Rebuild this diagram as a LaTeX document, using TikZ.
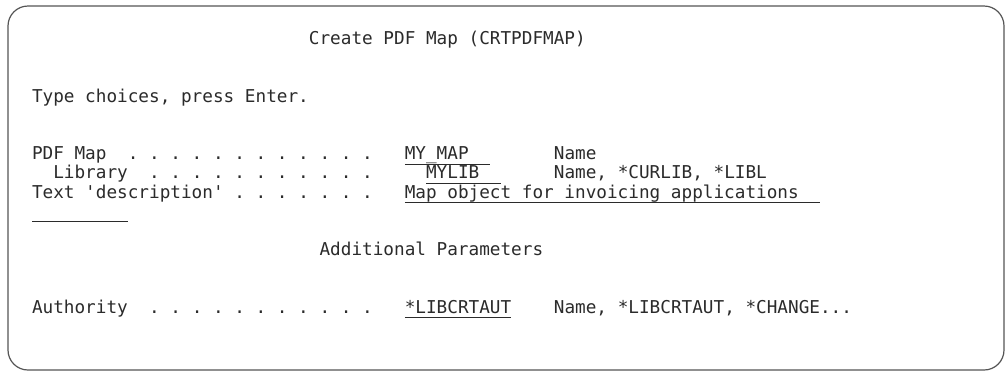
\documentclass[tikz,border=0pt]{standalone}
\usepackage{fontspec}
\setmonofont{DejaVu Sans Mono}
\frenchspacing
\definecolor{ink}{HTML}{2B2B2B}
\definecolor{frame}{HTML}{555555}
\newcommand\cw{10.65}
\newcommand\rowbase[1]{44.5+#1*19.2}
\newcommand\txt[4]{\node[scr] (#1) at ({32+#2*\cw},{\rowbase{#3}}) {#4};}
\newcommand\uline[4]{%
  \coordinate (#1a) at ({32+#2*\cw},{\rowbase{#4}+4.5});
  \coordinate (#1b) at ({32+#3*\cw},{\rowbase{#4}+4.5});
  \draw[fieldline] (#1a) -- (#1b);}
\begin{document}
\begin{tikzpicture}[x=1pt,y=-1pt,
  scr/.style={anchor=base west,inner sep=0pt,outer sep=0pt,text=ink,
    font=\ttfamily\fontsize{17.69}{20}\selectfont},
  fieldline/.style={draw=ink,line width=1.3pt},
  panel/.style={draw=frame,line width=1.2pt,rounded corners=20pt,fill=white}]
\useasboundingbox (0,0) rectangle (1008,373);
\fill[white] (0,0) rectangle (1008,373);
\draw[panel] (8,6) rectangle (1004,370);
% row 0
\txt{title}{26}{0}{Create PDF Map (CRTPDFMAP)}
% row 3
\txt{prompt}{0}{3}{Type choices, press Enter.}
% row 6
\txt{mapL}{0}{6}{PDF Map}
\txt{mapD}{9}{6}{. . . . . . . . . . . .}
\txt{mapV}{35}{6}{MY\_MAP}
\txt{mapH}{49}{6}{Name}
\uline{mapU}{35}{43}{6}
% row 7
\txt{libL}{2}{7}{Library}
\txt{libD}{11}{7}{. . . . . . . . . . .}
\txt{libV}{37}{7}{MYLIB}
\txt{libH}{49}{7}{Name, *CURLIB, *LIBL}
\uline{libU}{37}{44}{7}
% row 8
\txt{txtL}{0}{8}{Text 'description'}
\txt{txtD}{19}{8}{. . . . . . .}
\txt{txtV}{35}{8}{Map object for invoicing applications}
\uline{txtU}{35}{74}{8}
% row 9 continuation
\uline{contU}{0}{9}{9}
% row 11
\txt{addl}{27}{11}{Additional Parameters}
% row 14
\txt{autL}{0}{14}{Authority}
\txt{autD}{11}{14}{. . . . . . . . . . .}
\txt{autV}{35}{14}{*LIBCRTAUT}
\txt{autH}{49}{14}{Name, *LIBCRTAUT, *CHANGE...}
\uline{autU}{35}{45}{14}
\end{tikzpicture}
\end{document}
